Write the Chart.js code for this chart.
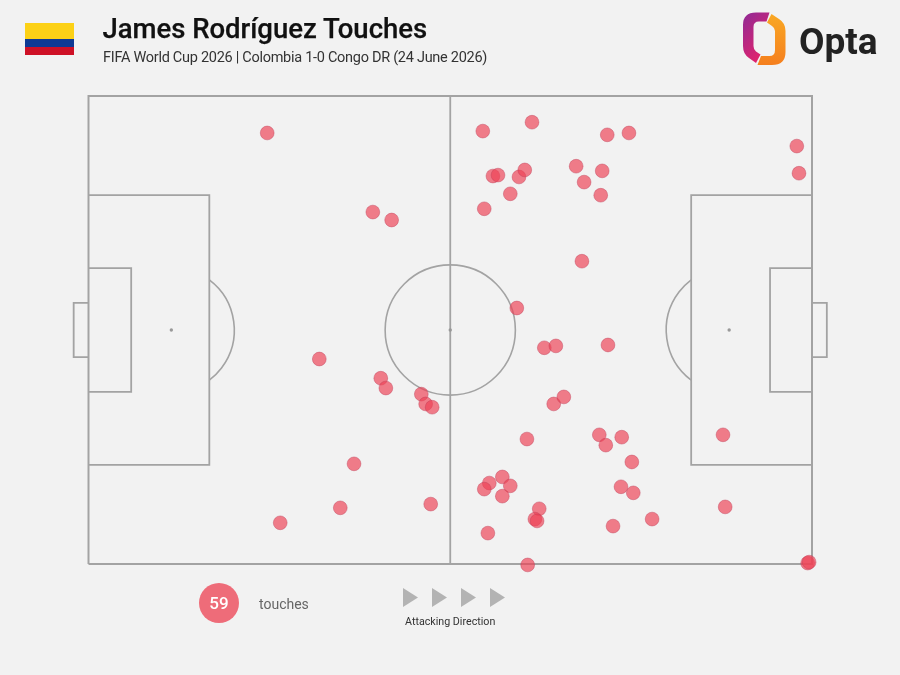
<!DOCTYPE html>
<html>
<head>
<meta charset="utf-8">
<script src="https://cdn.jsdelivr.net/npm/chart.js@4"></script>
<style>
html,body{margin:0;padding:0;background:#f2f2f2;}
#wrap{position:relative;width:900px;height:675px;overflow:hidden;font-family:Roboto,sans-serif;filter:blur(0.35px);}
canvas{position:absolute;left:0;top:0;}
.t{position:absolute;white-space:nowrap;line-height:1;}
svg{position:absolute;left:0;top:0;}
</style>
</head>
<body>
<div id="wrap">
<canvas id="c" width="900" height="675"></canvas>
<svg width="900" height="675" viewBox="0 0 900 675">
  <defs>
    <linearGradient id="gl" x1="0" y1="0" x2="0.6" y2="1"><stop offset="0" stop-color="#8f2a96"/><stop offset="1" stop-color="#e5236b"/></linearGradient>
    <linearGradient id="gr" x1="0" y1="0" x2="0" y2="1"><stop offset="0" stop-color="#f9a824"/><stop offset="1" stop-color="#f57f1e"/></linearGradient>
  </defs>
  <rect x="25" y="23" width="49" height="16" fill="#fcd116"/>
  <rect x="25" y="39" width="49" height="8" fill="#0f3a94"/>
  <rect x="25" y="47" width="49" height="8" fill="#ce1126"/>
  <path fill="url(#gl)" d="M769.5,12.5 L756,12.5 Q743,12.5 743,25 L743,46 Q743,54 749,58 L756,63 L760.5,54.5 L756,51.5 Q753.5,49.5 753.5,46 L753.5,27 Q753.5,21.5 759,21.5 L766.5,21.5 Z"/>
  <path fill="url(#gr)" d="M757.5,65 L772,65 Q785.5,65 785.5,52 L785.5,31 Q785.5,23 779,19 L771.5,14 L767,22.5 L772,26 Q775,28 775,31 L775,50 Q775,56 769.5,56 L761,56 Z"/>
  <polygon points="403,588 403,607 418,597.5" fill="#b3b3b3"/>
  <polygon points="432,588 432,607 447,597.5" fill="#b3b3b3"/>
  <polygon points="461,588 461,607 476,597.5" fill="#b3b3b3"/>
  <polygon points="490,588 490,607 505,597.5" fill="#b3b3b3"/>
  <circle cx="219" cy="603" r="20" fill="#ee6c79"/>
</svg>
<div class="t" style="left:102.5px;top:15px;font-size:27.5px;font-weight:500;letter-spacing:-0.02px;color:#111;-webkit-text-stroke:0.25px #111;">James Rodríguez Touches</div>
<div class="t" style="left:103px;top:51px;font-size:14.5px;letter-spacing:-0.28px;color:#333;">FIFA World Cup 2026 | Colombia 1-0 Congo DR (24 June 2026)</div>
<div class="t" style="left:799px;top:23px;font-size:37px;font-weight:700;color:#222;">Opta</div>
<div class="t" style="left:199px;width:40px;text-align:center;top:595px;font-size:17px;font-weight:500;color:#fff;">59</div>
<div class="t" style="left:259px;top:597px;font-size:14px;color:#666;">touches</div>
<div class="t" style="left:405px;top:617px;font-size:10.7px;color:#333;">Attacking Direction</div>
</div>
<script>
// Touch locations in pitch units (0-100 on both axes, attacking left to right)
const touchX = [24.7,39.3,41.9,31.9,40.4,41.1,46.0,46.6,47.5,36.7,34.8,26.5,47.3,54.5,61.3,71.7,74.7,97.9,98.2,55.9,56.6,59.5,60.3,58.3,54.7,67.4,68.5,71.0,70.8,68.2,59.2,63.0,64.6,71.8,64.3,65.7,60.6,70.6,71.5,73.7,87.7,75.1,73.6,75.3,57.2,55.4,54.7,58.3,57.2,62.3,61.7,62.0,55.2,72.5,77.9,88.0,60.7,99.4,99.6];
const touchY = [92.1,75.2,73.5,43.8,39.7,37.6,36.3,34.2,33.5,21.4,12.0,8.8,12.8,92.5,94.4,91.7,92.1,89.3,83.5,82.9,83.1,82.7,84.2,79.1,75.9,85.0,81.6,84.0,78.8,64.7,54.7,46.2,46.6,46.8,34.2,35.7,26.7,27.6,25.4,27.1,27.6,21.8,16.5,15.2,18.6,17.3,16.0,16.7,14.5,11.8,9.6,9.2,6.6,8.1,9.6,12.2,-0.2,0.2,0.4];

// Pitch markings in the same pitch units
const outlineX = [0,100,100,0,0];
const outlineY = [0,0,100,100,0];
const halfwayX = [50,50];
const halfwayY = [0,100];
const leftBoxX = [0,16.7,16.7,0];
const rightBoxX = [100,83.3,83.3,100];
const bigBoxY = [78.8,78.8,21.2,21.2];
const leftSixX = [0,5.9,5.9,0];
const rightSixX = [100,94.2,94.2,100];
const sixBoxY = [63.2,63.2,36.8,36.8];
const leftGoalX = [0,-2.05,-2.05,0];
const rightGoalX = [100,102.05,102.05,100];
const goalY = [55.8,55.8,44.2,44.2];
const spotX = [11.45,50,88.55];
const spotY = [50,50,50];
const centreRadiusX = 9.0;
const arcRadiusX = 8.7;

const LINE = '#a3a3a3';
function seg(xs, ys, w) {
  return {type:'scatter', showLine:true, data:xs.map((x,i)=>({x, y:ys[i]})), borderColor:LINE, borderWidth:w, pointRadius:0, fill:false, order:2, clip:false, tension:0};
}
const pitchArcs = {
  id:'pitchArcs',
  beforeDatasetsDraw(chart){
    const {ctx, scales:{x, y}} = chart;
    const unit = x.getPixelForValue(1) - x.getPixelForValue(0);
    const cy = y.getPixelForValue(50);
    ctx.save();
    ctx.strokeStyle = LINE; ctx.lineWidth = 1.6;
    ctx.beginPath();
    ctx.arc(x.getPixelForValue(50), cy, centreRadiusX*unit, 0, Math.PI*2);
    ctx.stroke();
    const r = arcRadiusX*unit;
    const lA = Math.acos((x.getPixelForValue(leftBoxX[1]) - x.getPixelForValue(spotX[0]))/r);
    ctx.beginPath();
    ctx.arc(x.getPixelForValue(spotX[0]), cy, r, -lA, lA);
    ctx.stroke();
    const rA = Math.acos((x.getPixelForValue(spotX[2]) - x.getPixelForValue(rightBoxX[1]))/r);
    ctx.beginPath();
    ctx.arc(x.getPixelForValue(spotX[2]), cy, r, Math.PI-rA, Math.PI+rA);
    ctx.stroke();
    ctx.restore();
  }
};
const bgPlugin = {
  id:'bg',
  beforeDraw(chart){ const c=chart.ctx; c.save(); c.fillStyle='#f2f2f2'; c.fillRect(0,0,chart.width,chart.height); c.restore(); }
};
new Chart(document.getElementById('c'), {
  type:'scatter',
  data:{datasets:[
    {data:touchX.map((x,i)=>({x, y:touchY[i]})), backgroundColor:'rgba(238,66,86,0.68)', borderColor:'rgba(190,60,85,0.42)', borderWidth:1, pointRadius:6.9, order:0, clip:false},
    {data:spotX.map((x,i)=>({x, y:spotY[i]})), backgroundColor:'#999', borderWidth:0, pointRadius:1.7, order:1, clip:false},
    seg(outlineX,outlineY,2), seg(halfwayX,halfwayY,1.8),
    seg(leftBoxX,bigBoxY,1.8), seg(rightBoxX,bigBoxY,1.8),
    seg(leftSixX,sixBoxY,1.8), seg(rightSixX,sixBoxY,1.8),
    seg(leftGoalX,goalY,1.8), seg(rightGoalX,goalY,1.8)
  ]},
  options:{
    responsive:false, animation:false,
    layout:{padding:{left:88.5,right:88,top:96,bottom:111}},
    plugins:{legend:{display:false},tooltip:{enabled:false},title:{display:false}},
    scales:{
      x:{type:'linear',min:0,max:100,display:false},
      y:{type:'linear',min:0,max:100,display:false}
    }
  },
  plugins:[bgPlugin,pitchArcs]
});
</script>
</body>
</html>
